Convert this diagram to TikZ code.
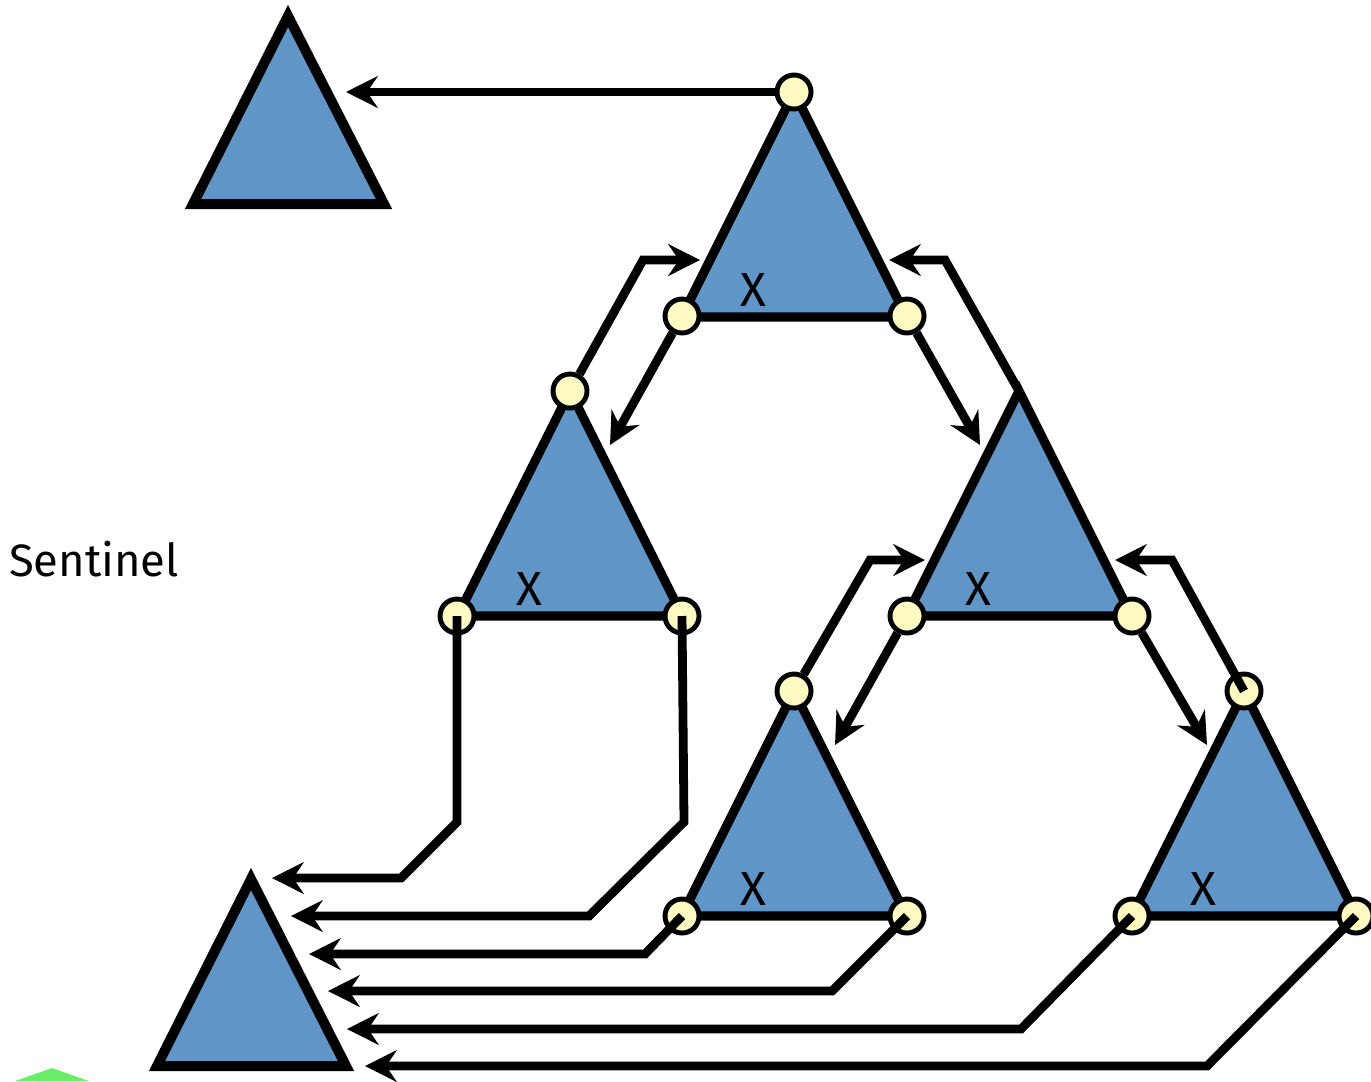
\documentclass[tikz,border=0pt]{standalone}
\usepackage{fontspec}
\setmainfont{Fira Sans}
\usetikzlibrary{arrows.meta}
\definecolor{treeblue}{RGB}{96,149,200}
\definecolor{nodeyellow}{RGB}{252,250,192}
\definecolor{sentgreen}{RGB}{104,238,104}

\begin{document}
\begin{tikzpicture}[x=0.01cm, y=-0.01cm,
	tree/.style={fill=treeblue, draw=black, line width=2.6pt, line join=miter},
	dot/.style={circle, fill=nodeyellow, draw=black, line width=1.4pt, minimum size=0.34cm, inner sep=0pt},
	ptr/.style={line width=2.5pt, -{Stealth[length=9pt, width=9pt, inset=3pt]}},
	lbl/.style={font=\fontsize{13.6}{16}\selectfont}]
	\useasboundingbox (0,0) rectangle (1371,1081);

	% the lone subtree and the sentinel
	\draw[tree, line width=2.85pt] (288,16) -- (384,204) -- (193,204) -- cycle;
	\draw[tree, line width=2.85pt] (251,879) -- (346,1066) -- (157,1066) -- cycle;
	\fill[sentgreen] (15,1081) -- (52,1068) -- (89,1081) -- cycle;
	\node[lbl, font=\fontsize{12.9}{15}\selectfont, anchor=base] (sentinel) at (94,576) {Sentinel};

	% subtrees of the main tree
	\foreach \n/\x/\y in {tc/794/92, lm/570/391, rm/1019/391, bm/794/691, br/1244/691} {
		\draw[tree] (\x,\y) -- ++(112.5,225) -- ++(-225,0) -- cycle;
		\coordinate (\n-apex) at (\x,\y);
		\node[lbl] (\n-x) at (\x-41,\y+198) {X};
	}

	\foreach \n/\x/\y in {tc-top/794/92, tc-left/682/316, tc-right/907/316,
		lm-top/570/391, lm-left/457/616, lm-right/682/616,
		rm-left/907/616, rm-right/1132/616,
		bm-top/794/691, bm-left/682/916, bm-right/907/916,
		br-top/1244/691, br-left/1132/916, br-right/1356/916}
		\node[dot] (\n) at (\x,\y) {};

	% parent and child pointers
	\coordinate (tl-in) at (346,92);
	\draw[ptr] (tc-top) -- (tl-in);

	\coordinate (a1) at (643,260);  \coordinate (a1-in) at (700,260);
	\coordinate (a2-in) at (610,445);
	\draw[ptr] (lm-top) -- (a1) -- (a1-in);
	\draw[ptr] (tc-left) -- (a2-in);

	\coordinate (b1) at (945,260);  \coordinate (b1-in) at (889,260);
	\coordinate (b2-in) at (980,445);
	\draw[ptr] (rm-apex) -- (b1) -- (b1-in);
	\draw[ptr] (tc-right) -- (b2-in);

	\coordinate (c1) at (870,560);  \coordinate (c1-in) at (925,560);
	\coordinate (c2-in) at (835,745);
	\draw[ptr] (bm-top) -- (c1) -- (c1-in);
	\draw[ptr] (rm-left) -- (c2-in);

	\coordinate (d1) at (1172,560); \coordinate (d1-in) at (1115,560);
	\coordinate (d2-in) at (1207,745);
	\draw[ptr] (br-top.center) -- (d1) -- (d1-in);
	\draw[ptr] (rm-right) -- (d2-in);

	% leaves point at the sentinel
	\coordinate (s1) at (272,878);
	\coordinate (s2) at (291,916);
	\coordinate (s3) at (309,954);
	\coordinate (s4) at (328,991);
	\coordinate (s5) at (347,1029);
	\coordinate (s6) at (365,1066);
	\draw[ptr] (lm-left.center) -- (457,822) -- (401,878) -- (s1);
	\draw[ptr] (lm-right.center) -- (684,822) -- (589,916) -- (s2);
	\draw[ptr] (bm-left.center) -- (645,954) -- (s3);
	\draw[ptr] (bm-right.center) -- (832,991) -- (s4);
	\draw[ptr] (br-left.center) -- (1021,1029) -- (s5);
	\draw[ptr] (br-right.center) -- (1207,1066) -- (s6);
\end{tikzpicture}
\end{document}
